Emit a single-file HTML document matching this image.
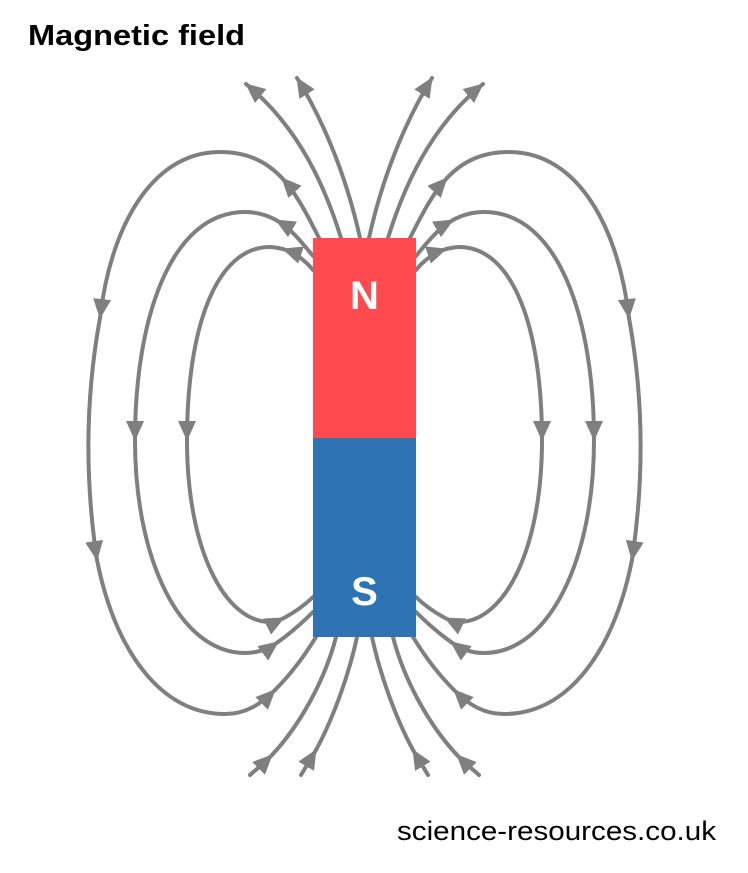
<!DOCTYPE html>
<html><head><meta charset="utf-8"><style>
html,body{margin:0;padding:0;background:#fff;}
svg{display:block;}
</style></head><body>
<svg width="748" height="873" viewBox="0 0 748 873" xmlns="http://www.w3.org/2000/svg">
<defs>
<marker id="a" viewBox="0 0 20 18" refX="19" refY="9" markerWidth="20" markerHeight="18" markerUnits="userSpaceOnUse" orient="auto">
<path d="M0,0 L20,9 L0,18 Z" fill="#7f7f7f"/>
</marker>
<g id="half" fill="none" stroke="#7f7f7f" stroke-width="4" stroke-linecap="round">
<path d="M320,240 C305,210 295,192 282,178" marker-end="url(#a)"/>
<path d="M282,178 C265,160 245,152 220,152 C150,152 110,230 100,318" marker-end="url(#a)"/>
<path d="M100,318 C85,400 85,480 97,560" marker-end="url(#a)"/>
<path d="M97,560 C115,650 160,714 225,714 C245,714 260,705 275,690" marker-end="url(#a)"/>
<path d="M275,690 C290,675 305,655 316,637"/>
<path d="M313,256 C300,240 290,228 276,220" marker-end="url(#a)"/>
<path d="M276,220 C265,214 255,212 245,212 C170,212 135,320 135,440" marker-end="url(#a)"/>
<path d="M135,440 C135,560 180,653 245,653 C260,653 270,648 278,642" marker-end="url(#a)"/>
<path d="M278,642 C292,632 305,620 313,612"/>
<path d="M313,270 C305,260 295,253 283,249" marker-end="url(#a)"/>
<path d="M283,249 C278,248 274,247 270,247 C215,247 187,330 187,440" marker-end="url(#a)"/>
<path d="M187,440 C187,550 225,622 270,622 C275,622 280,620 284,618" marker-end="url(#a)"/>
<path d="M284,618 C295,612 305,605 313,597"/>
<path d="M341,238 C320,170 290,120 246,84" marker-end="url(#a)"/>
<path d="M360,238 C345,170 320,115 297,78" marker-end="url(#a)"/>
<path d="M250,775 C258,768 265,762 272,755" marker-end="url(#a)"/>
<path d="M272,755 C300,725 325,680 336,637"/>
<path d="M301,775 L316,750" marker-end="url(#a)"/>
<path d="M316,750 C335,715 350,670 357,637"/>
</g>
</defs>
<use href="#half"/>
<use href="#half" transform="translate(729,0) scale(-1,1)"/>
<rect x="313" y="238" width="103" height="200" fill="#ff4b4f"/>
<rect x="313" y="438" width="103" height="199" fill="#2e74b5"/>
<text x="364.5" y="309" text-anchor="middle" font-family="Liberation Sans, sans-serif" font-weight="bold" font-size="40" fill="#fff">N</text>
<text x="364.5" y="605" text-anchor="middle" font-family="Liberation Sans, sans-serif" font-weight="bold" font-size="40" fill="#fff">S</text>
<text x="28" y="45" font-family="Liberation Sans, sans-serif" font-weight="bold" font-size="29" fill="#000" textLength="217" lengthAdjust="spacingAndGlyphs">Magnetic field</text>
<text x="397" y="840" font-family="Liberation Sans, sans-serif" font-size="27" fill="#000" textLength="319" lengthAdjust="spacingAndGlyphs">science-resources.co.uk</text>
</svg>
</body></html>
